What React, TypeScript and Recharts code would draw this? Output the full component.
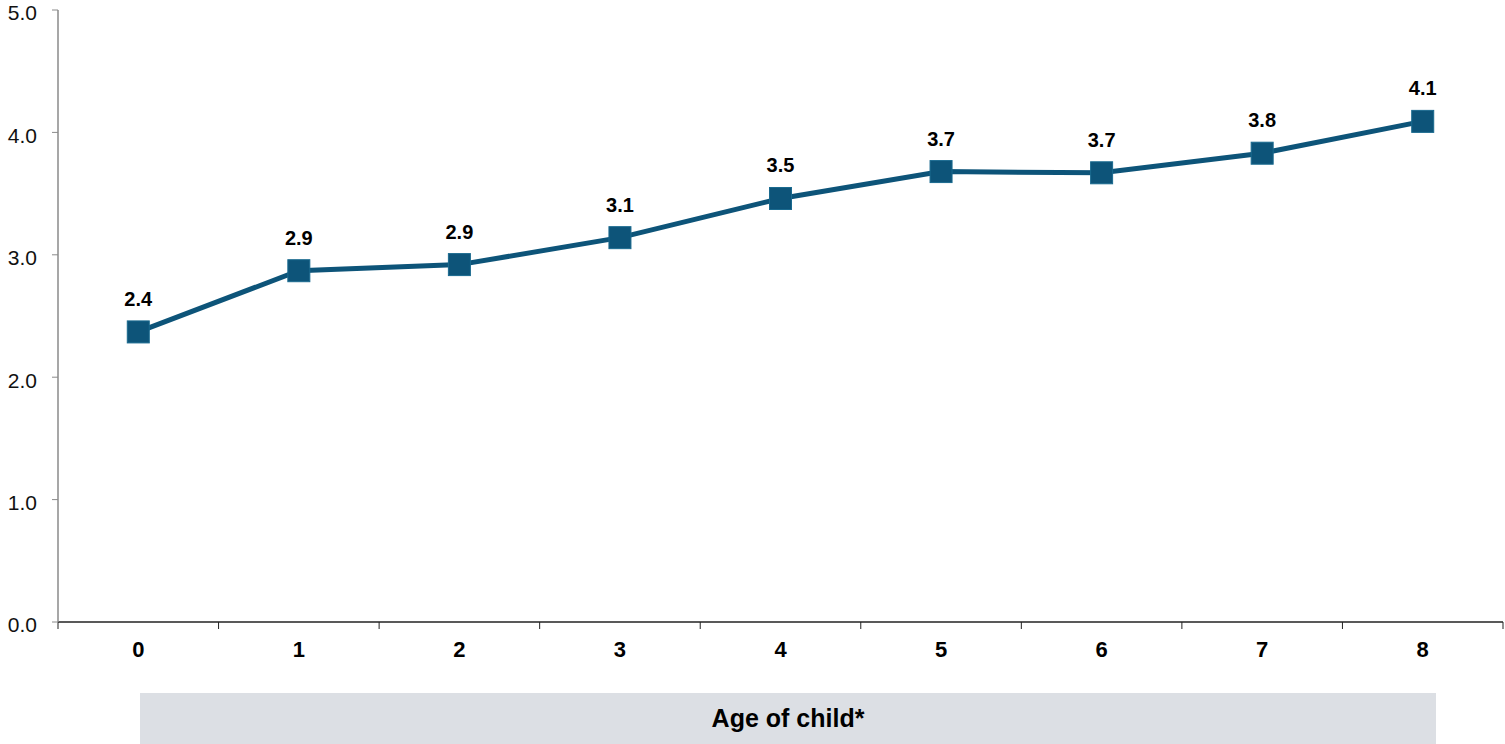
import React from "react";
import { LineChart, Line, XAxis, YAxis, LabelList } from "recharts";

const ages = [0, 1, 2, 3, 4, 5, 6, 7, 8];
const values = [2.37, 2.87, 2.92, 3.14, 3.46, 3.68, 3.67, 3.83, 4.09];
const yTicks = [0, 1, 2, 3, 4, 5];
const boundaryTicks = [-0.5, 0.5, 1.5, 2.5, 3.5, 4.5, 5.5, 6.5, 7.5, 8.5];
const axisTitle = "Age of child*";

const data = ages.map((a, i) => ({ age: a, value: values[i] }));

const LINE_COLOR = "#0d5479";
const FONT = "'Liberation Sans', Arial, sans-serif";

const SquareDot = (props: any) => {
  const { cx, cy } = props;
  if (cx == null || cy == null) return null;
  const s = 22;
  return <rect x={cx - s / 2} y={cy - s / 2} width={s} height={s} fill={LINE_COLOR} stroke="#1a6a8f" strokeWidth={1} />;
};

export default function App() {
  return (
    <div style={{ position: "absolute", left: 0, top: 0, width: 1505, height: 744, background: "#fff", fontFamily: FONT }}>
      <LineChart width={1505} height={744} data={data} margin={{ top: 10, right: 2, bottom: 92, left: 0 }}>
        <XAxis
          xAxisId="bounds"
          dataKey="age"
          type="number"
          domain={[-0.5, 8.5]}
          ticks={boundaryTicks}
          tickFormatter={() => ""}
          height={1}
          tickSize={7}
          axisLine={{ stroke: "#222", strokeWidth: 1.5 }}
          tickLine={{ stroke: "#222", strokeWidth: 1 }}
          interval={0}
        />
        <XAxis
          xAxisId="main"
          dataKey="age"
          type="number"
          domain={[-0.5, 8.5]}
          ticks={ages}
          height={29}
          axisLine={false}
          tickLine={false}
          tickMargin={12}
          interval={0}
          tick={{ fill: "#000", fontSize: 22, fontWeight: "bold", fontFamily: FONT }}
        />
        <YAxis
          type="number"
          domain={[0, 5]}
          ticks={yTicks}
          width={58}
          tickSize={6}
          tickMargin={15}
          interval={0}
          tickFormatter={(v: number) => v.toFixed(1)}
          axisLine={{ stroke: "#8a8a8a", strokeWidth: 1.5 }}
          tickLine={{ stroke: "#8a8a8a", strokeWidth: 1 }}
          tick={{ fill: "#111", fontSize: 21, fontFamily: FONT, dy: 3 }}
        />
        <Line
          xAxisId="main"
          type="linear"
          dataKey="value"
          stroke={LINE_COLOR}
          strokeWidth={5}
          dot={<SquareDot />}
          activeDot={false}
          isAnimationActive={false}
        >
          <LabelList
            dataKey="value"
            position="top"
            offset={26}
            formatter={(v: any) => Number(v).toFixed(1)}
            style={{ fill: "#000", fontSize: 20, fontWeight: "bold", fontFamily: FONT }}
          />
        </Line>
      </LineChart>
      <div
        style={{
          position: "absolute",
          left: 140,
          top: 693,
          width: 1296,
          height: 51,
          background: "#dcdfe4",
          display: "flex",
          alignItems: "center",
          justifyContent: "center",
          fontSize: 25,
          fontWeight: "bold",
          color: "#000",
          fontFamily: FONT,
        }}
      >
        {axisTitle}
      </div>
    </div>
  );
}
